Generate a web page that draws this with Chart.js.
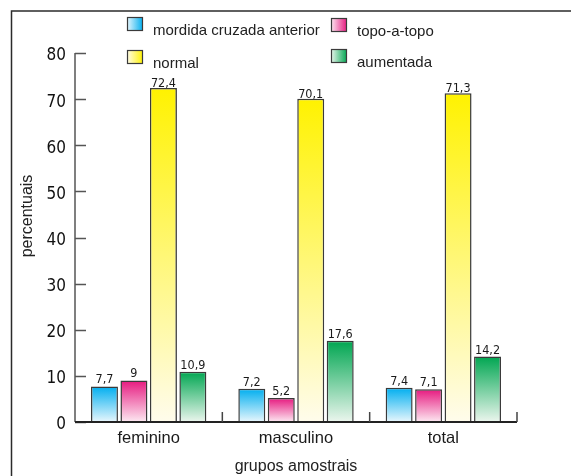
<!DOCTYPE html>
<html>
<head>
<meta charset="utf-8">
<script src="https://cdn.jsdelivr.net/npm/chart.js@4/dist/chart.umd.min.js"></script>
<style>
  html, body { margin: 0; padding: 0; background: #fff; }
</style>
</head>
<body>
<canvas id="grafico" width="571" height="476"></canvas>
<script>
// dados
const grupos = ['feminino', 'masculino', 'total'];
const series = ['mordida cruzada anterior', 'topo-a-topo', 'normal', 'aumentada'];
const mordidaCruzada = [7.7, 7.2, 7.4];
const topoATopo = [9, 5.2, 7.1];
const normal = [72.4, 70.1, 71.3];
const aumentada = [10.9, 17.6, 14.2];
const yMin = 0, yMax = 80, yStep = 10;

const coresTopo = ['#00aeef', '#e6197f', '#fff200', '#00a651'];
const coresBase = ['#e9f7fd', '#fde9f2', '#fffcec', '#ecf6ee'];
const borda = '#3a3a3a';

const narrow = "'Liberation Sans Narrow', 'DejaVu Sans Condensed', sans-serif";
const sans = "'Liberation Sans', Arial, sans-serif";

function preenchimento(i) {
    return function (ctx) {
        const chart = ctx.chart;
        if (!chart.chartArea || ctx.type !== 'data') return coresTopo[i];
        const y = chart.scales.y;
        const topo = y.getPixelForValue(ctx.parsed.y);
        const base = y.getPixelForValue(0);
        const g = chart.ctx.createLinearGradient(0, topo, 0, base);
        g.addColorStop(0, coresTopo[i]);
        g.addColorStop(1, coresBase[i]);
        return g;
    };
}

// moldura, título do eixo y, eixos com marcas para dentro
const eixos = {
    id: 'eixos',
    beforeDraw(chart) {
        const c = chart.ctx;
        c.save();
        c.strokeStyle = '#2b2b2b';
        c.lineWidth = 1.5;
        c.beginPath();
        c.moveTo(11.5, 476);
        c.lineTo(11.5, 11);
        c.lineTo(571, 11);
        c.stroke();
        // titulo vertical (um pouco acima do centro, como no original)
        c.translate(28, 216);
        c.rotate(-Math.PI / 2);
        c.font = '16px ' + sans;
        c.fillStyle = '#222';
        c.textAlign = 'center';
        c.textBaseline = 'middle';
        c.fillText('percentuais', 0, 0);
        c.restore();
    },
    afterDatasetsDraw(chart) {
        const c = chart.ctx;
        const x = chart.scales.x, y = chart.scales.y;
        const area = chart.chartArea;
        c.save();
        c.strokeStyle = '#555';
        c.lineWidth = 1.5;
        c.beginPath();
        c.moveTo(area.left, y.getPixelForValue(yMax));
        c.lineTo(area.left, y.getPixelForValue(yMin));
        for (let v = yMin; v <= yMax; v += yStep) {
            const py = Math.round(y.getPixelForValue(v)) + 0.5;
            c.moveTo(area.left, py);
            c.lineTo(area.left + 11, py);
        }
        c.stroke();
        c.strokeStyle = '#222';
        c.lineWidth = 2;
        c.beginPath();
        c.moveTo(area.left, area.bottom);
        c.lineTo(area.right, area.bottom);
        const meio = (area.right - area.left) / grupos.length / 2;
        c.stroke();
        c.lineWidth = 1.5;
        c.strokeStyle = '#444';
        c.beginPath();
        for (let i = 0; i < grupos.length; i++) {
            const px = x.getPixelForValue(i) + meio;
            c.moveTo(px, area.bottom);
            c.lineTo(px, area.bottom - 10);
        }
        c.stroke();
        c.restore();
    }
};

// rótulos de valor acima das barras
const rotulos = {
    id: 'rotulos',
    afterDatasetsDraw(chart) {
        const c = chart.ctx;
        c.save();
        c.font = '12.5px ' + narrow;
        c.fillStyle = '#1a1a1a';
        c.textAlign = 'center';
        c.textBaseline = 'alphabetic';
        chart.data.datasets.forEach((ds, i) => {
            chart.getDatasetMeta(i).data.forEach((bar, j) => {
                const txt = String(ds.data[j]).replace('.', ',');
                c.fillText(txt, bar.x, bar.y - (i === 2 ? 1 : 3));
            });
        });
        c.restore();
    }
};

// legenda em duas colunas
const legenda = {
    id: 'legenda',
    afterDraw(chart) {
        const c = chart.ctx;
        const pos = [[127, 17], [331, 18], [127, 50], [331, 49]];
        c.save();
        c.font = '15px ' + sans;
        c.textBaseline = 'alphabetic';
        chart.data.datasets.forEach((ds, i) => {
            const [bx, by] = pos[i];
            const g = c.createLinearGradient(bx, 0, bx + 16, 0);
            g.addColorStop(0, coresBase[i]);
            g.addColorStop(1, coresTopo[i]);
            c.fillStyle = g;
            c.fillRect(bx, by, 16, 14);
            c.strokeStyle = borda;
            c.lineWidth = 1.2;
            c.strokeRect(bx + 0.5, by + 0.5, 15, 13);
            c.fillStyle = '#222';
            c.fillText(ds.label, bx + 26, by + 18);
        });
        c.restore();
    }
};

const conjuntos = [mordidaCruzada, topoATopo, normal, aumentada].map((d, i) => ({
    label: series[i],
    data: d,
    backgroundColor: preenchimento(i),
    borderColor: borda,
    borderWidth: 1.5,
    categoryPercentage: 0.8,
    barPercentage: 0.915
}));

new Chart(document.getElementById('grafico'), {
    type: 'bar',
    data: { labels: grupos, datasets: conjuntos },
    options: {
        responsive: false,
        animation: false,
        devicePixelRatio: 1,
        layout: { padding: { top: 53, right: 54, left: 0, bottom: 0 } },
        plugins: {
            legend: { display: false },
            tooltip: { enabled: false }
        },
        scales: {
            x: {
                grid: { display: false, drawTicks: false },
                border: { display: false },
                ticks: { font: { family: sans, size: 16.5 }, color: '#1a1a1a', padding: 7 },
                title: { display: true, text: 'grupos amostrais', font: { family: sans, size: 16 }, color: '#222', padding: { top: 0, bottom: 0 } },
                afterFit(s) { s.height = 54; }
            },
            y: {
                min: yMin,
                max: yMax,
                grid: { display: false, drawTicks: false },
                border: { display: false },
                ticks: { stepSize: yStep, font: { family: narrow, size: 17 }, color: '#111', padding: 9, labelOffset: 3 },
                afterFit(s) { s.width = 75; }
            }
        }
    },
    plugins: [eixos, rotulos, legenda]
});
</script>
</body>
</html>
